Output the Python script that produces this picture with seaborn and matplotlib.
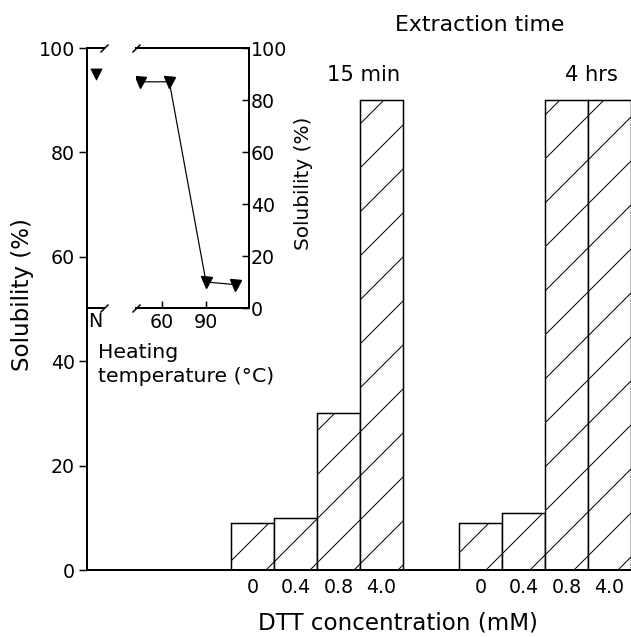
import numpy as np
import pandas as pd
import matplotlib
matplotlib.use('Agg')
import matplotlib.pyplot as plt
import seaborn as sns

# ── Data ─────────────────────────────────────────────────────
dtt_labels   = ['0', '0.4', '0.8', '4.0']
sol_15min    = [9, 10, 30, 90]
sol_4hrs     = [9, 11, 90, 90]
group_labels = ['15 min', '4 hrs']

heat_temp    = [45, 65, 90, 110]
heat_sol     = [87, 87, 10, 9]
native_sol   = [95]

# ── Layout (pixels of a 631x637 image) ───────────────────────
W, H = 631, 637
DPI = 132                      # '/' hatch spacing is dpi/3 px
PT = 72 / DPI                  # one pixel in points


def box(x0, y0, x1, y1):
    return [x0 / W, 1 - y1 / H, (x1 - x0) / W, (y1 - y0) / H]


sns.set_style('ticks')
plt.rcParams['font.family'] = ['DejaVu Sans']
plt.rcParams['hatch.linewidth'] = 1.0 * PT
plt.rcParams['axes.linewidth'] = 2.0 * PT
for key in ['text.color', 'axes.labelcolor', 'axes.edgecolor',
            'xtick.color', 'ytick.color']:
    plt.rcParams[key] = 'black'

FS = 19 * PT

fig = plt.figure(figsize=(W / DPI, H / DPI), dpi=DPI)
fig.patch.set_facecolor('white')

# ── Main bar chart ───────────────────────────────────────────
ax = fig.add_axes(box(87, 48, 631, 570))
starts = [3.85, 9.15]
df = pd.DataFrame({
    'pos': [s + i for s in starts for i in range(len(dtt_labels))],
    'sol': sol_15min + sol_4hrs,
})
sns.barplot(data=df, x='pos', y='sol', native_scale=True, width=1.0,
            color='white', saturation=1, edgecolor='black',
            linewidth=1.5 * PT, hatch='/', errorbar=None, ax=ax)
ax.set_xlim(0, 544 / 43)
ax.set_ylim(0, 100)
ax.set_yticks([0, 20, 40, 60, 80, 100])
ax.set_xticks(df['pos'])
ax.set_xticklabels(dtt_labels * 2)
ax.tick_params(axis='x', length=0, pad=8 * PT, labelsize=FS)
ax.tick_params(axis='y', length=8 * PT, width=1.5 * PT, pad=4 * PT,
               labelsize=FS)
for s in ['top', 'right']:
    ax.spines[s].set_visible(False)
ax.set_xlabel('DTT concentration (mM)', fontsize=23 * PT)
ax.xaxis.set_label_coords((398 - 87) / 544, -(612 - 570) / 522)
ax.set_ylabel('Solubility (%)', fontsize=23 * PT)
ax.yaxis.set_label_coords((34 - 87) / 544, (570 - 295) / 522)

fig.text(480 / W, 1 - 25 / H, 'Extraction time', fontsize=22 * PT,
         ha='center', va='center')
for lbl, xc in zip(group_labels, [364, 591]):
    fig.text(xc / W, 1 - 75 / H, lbl, fontsize=21 * PT,
             ha='center', va='center')

# ── Inset: native protein (N) ────────────────────────────────
brk = dict(marker=[(-1, -1), (1, 1)], markersize=8 * PT, linestyle='none',
           color='black', mec='black', mew=1.5 * PT, clip_on=False)

ax_n = fig.add_axes(box(87, 48, 104, 308))
ax_n.patch.set_alpha(0)
sns.scatterplot(x=[0], y=native_sol, marker='v', s=(11 * PT) ** 2,
                color='black', edgecolor='black', ax=ax_n)
ax_n.set_xlim(-1, 1)
ax_n.set_ylim(50, 100)
ax_n.set_xticks([0])
ax_n.set_xticklabels(['N'])
ax_n.set_yticks([])
ax_n.tick_params(axis='x', length=0, pad=4 * PT, labelsize=FS)
for s in ['left', 'right']:
    ax_n.spines[s].set_visible(False)
ax_n.plot([1, 1], [0, 1], transform=ax_n.transAxes, **brk)

# ── Inset: heating temperature ───────────────────────────────
ax_t = fig.add_axes(box(136, 48, 249, 308))
ax_t.patch.set_alpha(0)
sns.lineplot(x=heat_temp, y=heat_sol, color='black', marker='v',
             markersize=11 * PT, mec='black', linewidth=1.2 * PT, ax=ax_t)
ax_t.set_xlim(60 - 26 / (44 / 30), 60 + 87 / (44 / 30))
ax_t.set_ylim(0, 100)
ax_t.set_xticks([60, 90])
ax_t.set_yticks([0, 20, 40, 60, 80, 100])
ax_t.spines['left'].set_visible(False)
ax_t.yaxis.tick_right()
ax_t.yaxis.set_label_position('right')
ax_t.tick_params(axis='both', direction='in', length=7 * PT,
                 width=1.5 * PT, labelsize=FS)
ax_t.tick_params(axis='x', pad=5 * PT)
ax_t.tick_params(axis='y', pad=2 * PT)
ax_t.set_ylabel('Solubility (%)', fontsize=20 * PT)
ax_t.yaxis.set_label_coords((294 - 136) / 113, (308 - 183) / 260)
ax_t.plot([0, 0], [0, 1], transform=ax_t.transAxes, **brk)

fig.text(98 / W, 1 - 352 / H, 'Heating', fontsize=20.5 * PT, ha='left',
         va='center')
fig.text(98 / W, 1 - 377 / H, 'temperature (°C)', fontsize=20.5 * PT,
         ha='left', va='center')

fig.savefig('out.png', dpi=DPI, facecolor='white')
